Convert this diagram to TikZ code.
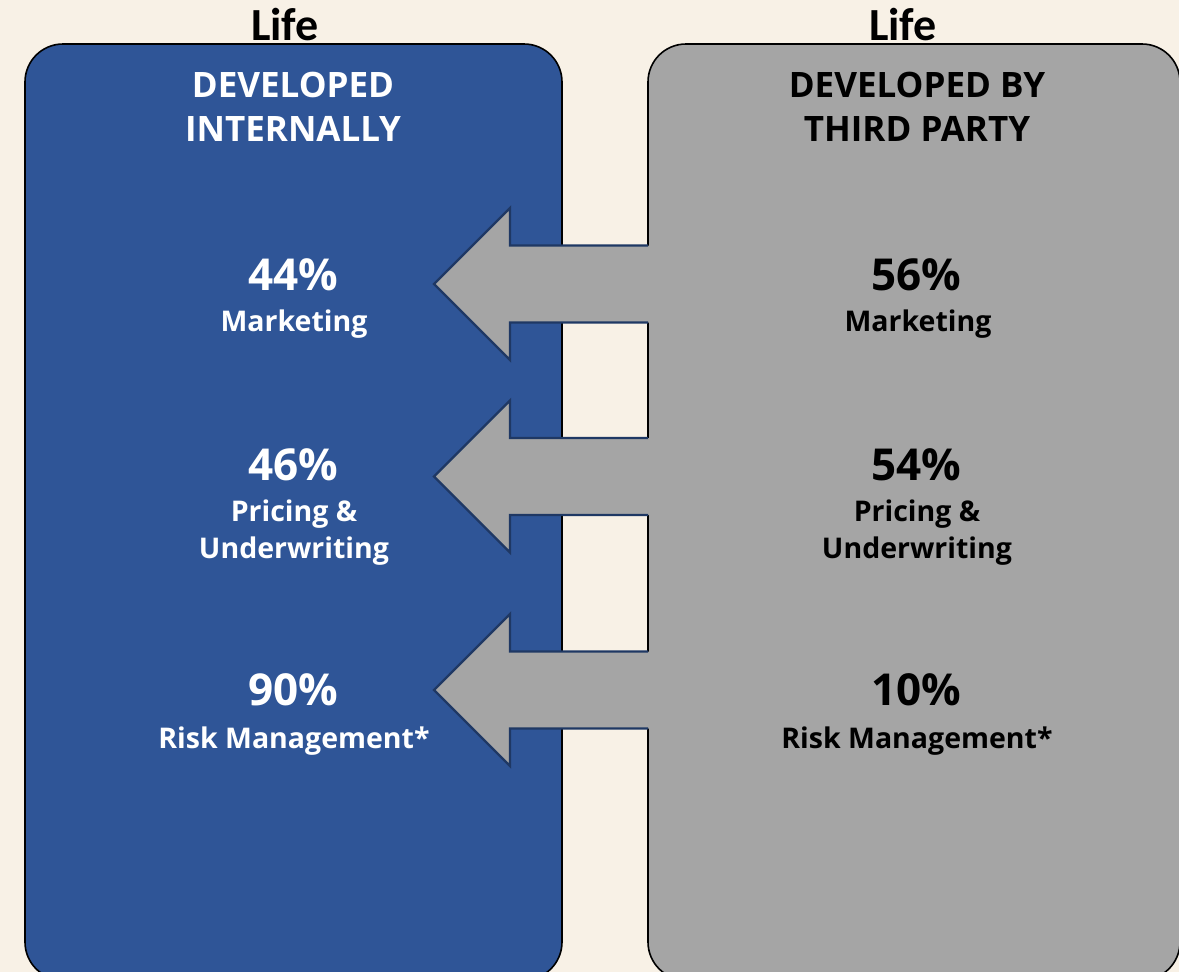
\documentclass[tikz,border=0pt]{standalone}
\usepackage{fontspec}
\setmainfont{Open Sans}
\newfontfamily\lifefont{Carlito}
\definecolor{bgc}{HTML}{F8F1E6}
\definecolor{bluebox}{HTML}{2F5597}
\definecolor{graybox}{HTML}{A5A5A5}
\definecolor{navy}{HTML}{1F3864}
\begin{document}
\begin{tikzpicture}[x=1pt,y=-1pt,
  box/.style={draw=black,line width=1.6pt,rounded corners=38pt},
  lifelbl/.style={font=\lifefont\bfseries\fontsize{46}{48}\selectfont,text=black,inner sep=0pt},
  headw/.style={font=\bfseries\fontsize{35}{44}\selectfont,text=white,align=center,inner sep=0pt},
  headk/.style={headw,text=black},
  pctw/.style={font=\bfseries\fontsize{44}{44}\selectfont,text=white,inner sep=0pt},
  pctk/.style={pctw,text=black},
  catw/.style={font=\bfseries\fontsize{28.5}{37}\selectfont,text=white,align=center,inner sep=0pt},
  catk/.style={catw,text=black},
  arrowfill/.style={fill=graybox},
  arrowline/.style={draw=navy,line width=2.4pt,line join=miter}
]
\fill[bgc] (0,0) rectangle (1179,972);
\useasboundingbox (0,0) rectangle (1179,972);
% boxes
\draw[box,fill=bluebox] (25,44) rectangle (562,980);
\draw[box,fill=graybox] (648,44) rectangle (1180,980);
% arrows
\foreach \c in {284,476.5,690}{
  \fill[arrowfill] (649,\c-38.5) -- (510,\c-38.5) -- (510,\c-76) -- (434,\c) -- (510,\c+76) -- (510,\c+38.5) -- (649,\c+38.5) -- cycle;
  \draw[arrowline] (648,\c-38.5) -- (510,\c-38.5) -- (510,\c-76) -- (434,\c) -- (510,\c+76) -- (510,\c+38.5) -- (648,\c+38.5);
}
% titles
\node[lifelbl] (lifeL) at (285,25) {Life};
\node[lifelbl] (lifeR) at (903,25) {Life};
\node[headw] (hL) at (293,107) {DEVELOPED\\INTERNALLY};
\node[headk] (hR) at (917,107) {DEVELOPED BY\\THIRD PARTY};
% left values
\node[pctw] (p1L) at (293,275) {44\%};
\node[catw] (c1L) at (294,324.5) {Marketing};
\node[pctw] (p2L) at (293,465) {46\%};
\node[catw] (c2L) at (294,532.5) {Pricing \&\\Underwriting};
\node[pctw] (p3L) at (293,690) {90\%};
\node[catw] (c3L) at (294,741) {Risk Management*};
% right values
\node[pctk] (p1R) at (916,275) {56\%};
\node[catk] (c1R) at (918,324.5) {Marketing};
\node[pctk] (p2R) at (916,465) {54\%};
\node[catk] (c2R) at (917,532.5) {Pricing \&\\Underwriting};
\node[pctk] (p3R) at (916,690) {10\%};
\node[catk] (c3R) at (917,741) {Risk Management*};
\end{tikzpicture}
\end{document}
